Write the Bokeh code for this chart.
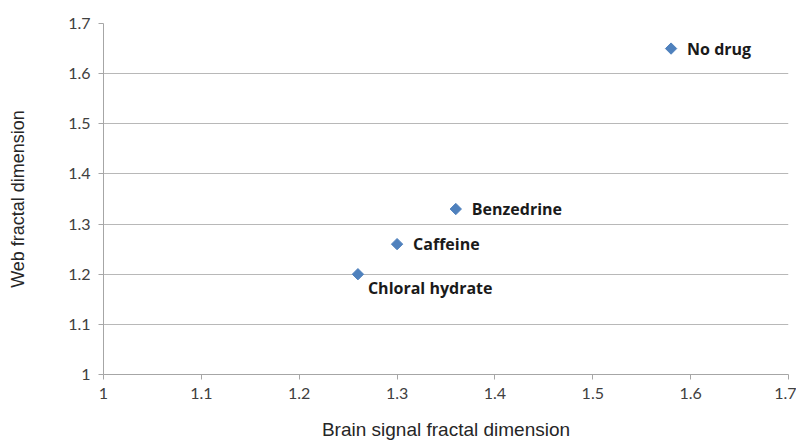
import numpy as np
from bokeh.plotting import figure
from bokeh.models import ColumnDataSource, Range1d, FixedTicker
from bokeh.core.properties import value
from bokeh.embed import file_html
from bokeh.resources import INLINE

# Data
drugs = ["No drug", "Benzedrine", "Caffeine", "Chloral hydrate"]
brain_fd = [1.58, 1.36, 1.30, 1.26]
web_fd = [1.65, 1.33, 1.26, 1.20]
tick_values = [1.0, 1.1, 1.2, 1.3, 1.4, 1.5, 1.6, 1.7]
tick_labels = ["1", "1.1", "1.2", "1.3", "1.4", "1.5", "1.6", "1.7"]
tick_keys = ["1", "1.1", "1.2", "1.3", "1.4", "1.5", "1.6", "1.7"]
x_title = "Brain signal fractal dimension"
y_title = "Web fractal dimension"

# label placement (style)
x_off = [16, 16, 16, 10]
y_off = [0, 0, 0, 14]

src = ColumnDataSource(dict(x=brain_fd, y=web_fd, name=drugs, xo=x_off, yo=y_off))

p = figure(width=796, height=443, output_backend="svg", toolbar_location=None,
           x_range=Range1d(1.0, 1.7), y_range=Range1d(1.0, 1.7),
           min_border_left=103, min_border_right=8, min_border_top=23, min_border_bottom=69)
p.outline_line_color = None
p.background_fill_color = "white"
p.border_fill_color = "white"

for ax in (p.xaxis[0], p.yaxis[0]):
    ax.ticker = FixedTicker(ticks=tick_values)
    ax.major_label_overrides = dict(zip(tick_keys, tick_labels))
    ax.minor_tick_line_color = None
    ax.major_tick_in = 0
    ax.major_tick_out = 5
    ax.axis_line_color = "#a6a6a6"
    ax.major_tick_line_color = "#a6a6a6"
    ax.major_label_text_font = "Lato"
    ax.major_label_text_font_size = "16px"
    ax.major_label_text_color = "#404040"
    ax.axis_label_text_font = "Liberation Sans"
    ax.axis_label_text_font_style = "normal"
    ax.axis_label_text_color = "#262626"

p.xaxis.major_label_standoff = 8
p.yaxis.major_label_standoff = 8
p.xaxis.axis_label = x_title
p.yaxis.axis_label = y_title
p.xaxis.axis_label_text_font_size = "19px"
p.yaxis.axis_label_text_font_size = "18px"
p.xaxis.axis_label_standoff = 17
p.yaxis.axis_label_standoff = 37

p.xgrid.grid_line_color = None
p.ygrid.grid_line_color = "#b8b8b8"
p.ygrid.ticker = FixedTicker(ticks=tick_values)

p.scatter("x", "y", source=src, marker="square", angle=np.pi / 4, size=8,
          fill_color="#4f81bd", line_color="#4f81bd")
p.text("x", "y", text="name", source=src, x_offset="xo", y_offset="yo",
       text_font=value("Open Sans"), text_font_style="bold", text_font_size="16px",
       text_color="#1a1a1a", text_baseline="middle", text_align="left")

open("out.html", "w").write(file_html(p, INLINE))
